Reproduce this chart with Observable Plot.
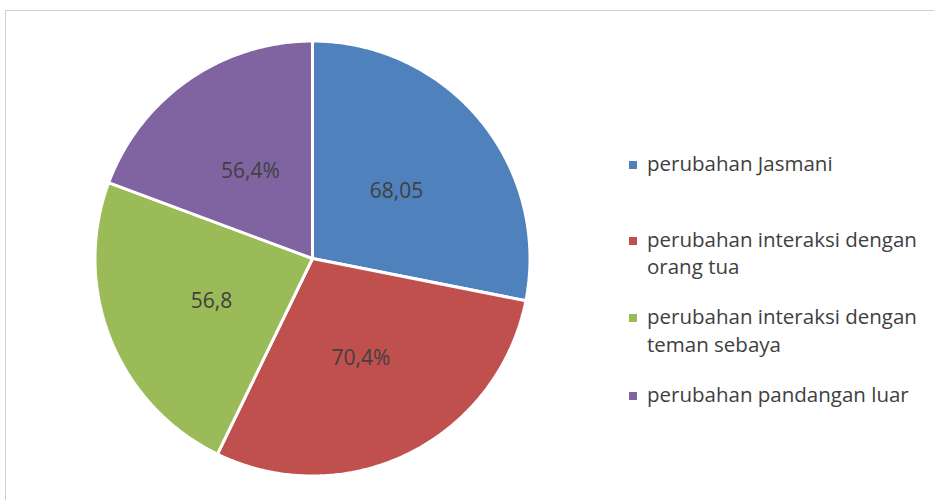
<!DOCTYPE html>
<html>
<head>
<meta charset="utf-8">
<script src="https://cdn.jsdelivr.net/npm/d3@7"></script>
<script src="https://cdn.jsdelivr.net/npm/@observablehq/plot@0.6"></script>
<style>
  html, body { margin: 0; padding: 0; background: #fff; }
  #wrap { position: relative; width: 934px; height: 500px; overflow: hidden; font-family: "Open Sans", sans-serif; }
  #frame { position: absolute; left: 5px; top: 10px; width: 1000px; height: 600px; border-left: 1px solid #d0d0d0; border-top: 1px solid #d0d0d0; }
  #chart { position: absolute; left: 0; top: 0; }
  #legend { position: absolute; left: 647px; width: 285px; color: #404040; font-size: 20.5px; line-height: 27.7px; }
  .item { position: absolute; left: 0; width: 285px; }
  .swatch { position: absolute; left: -18px; width: 8px; height: 8px; top: 11px; }
</style>
</head>
<body>
<div id="wrap">
  <div id="frame"></div>
  <div id="chart"></div>
  <div id="legend"></div>
</div>
<script>
// Categories (legend order, clockwise from 12 o'clock)
const categories = [
  "perubahan Jasmani",
  "perubahan interaksi dengan orang tua",
  "perubahan interaksi dengan teman sebaya",
  "perubahan pandangan luar"
];
// Slice sizes
const values = [68.05, 70.4, 56.8, 46.8];
// Data labels as printed on the slices
const labels = ["68,05", "70,4%", "56,8", "56,4%"];
const colors = ["#4F81BD", "#C0504D", "#9BBB59", "#8064A2"];
// legend item tops (px)
const legendTops = [150, 225.5, 303.2, 381.2];

const arcs = d3.pie().sort(null).value(d => d)(values);

// polygon points for each slice, in unit-circle data coordinates
const slicePts = [];
arcs.forEach((a, i) => {
  const cat = categories[i];
  slicePts.push({cat, x: 0, y: 0});
  const n = Math.max(2, Math.ceil((a.endAngle - a.startAngle) / (Math.PI / 360)));
  for (let k = 0; k <= n; k++) {
    const t = a.startAngle + (a.endAngle - a.startAngle) * k / n;
    slicePts.push({cat, x: Math.sin(t), y: Math.cos(t)});
  }
  slicePts.push({cat, x: 0, y: 0});
});

const labelPts = arcs.map((a, i) => {
  const m = (a.startAngle + a.endAngle) / 2;
  return {cat: categories[i], label: labels[i], x: 0.5 * Math.sin(m), y: 0.5 * Math.cos(m)};
});

const plot = Plot.plot({
  width: 934,
  height: 500,
  margin: 0,
  x: {domain: [-1, 1], range: [94.5, 529.5], axis: null},
  y: {domain: [-1, 1], range: [475.5, 40.5], axis: null},
  color: {domain: categories, range: colors},
  style: {background: "transparent"},
  marks: [
    Plot.line(slicePts, {x: "x", y: "y", z: "cat", fill: "cat", stroke: "white", strokeWidth: 3, strokeLinejoin: "miter", curve: "linear"}),
    Plot.text(labelPts, {x: "x", y: "y", text: "label", fill: "#404040", fontSize: 21, fontFamily: "Open Sans", textAnchor: "middle", dy: 2})
  ]
});
document.getElementById("chart").appendChild(plot);

const legend = document.getElementById("legend");
categories.forEach((c, i) => {
  const it = document.createElement("div");
  it.className = "item";
  it.style.top = legendTops[i] + "px";
  const sw = document.createElement("div");
  sw.className = "swatch";
  sw.style.background = colors[i];
  it.appendChild(sw);
  it.appendChild(document.createTextNode(c));
  legend.appendChild(it);
});
</script>
</body>
</html>
